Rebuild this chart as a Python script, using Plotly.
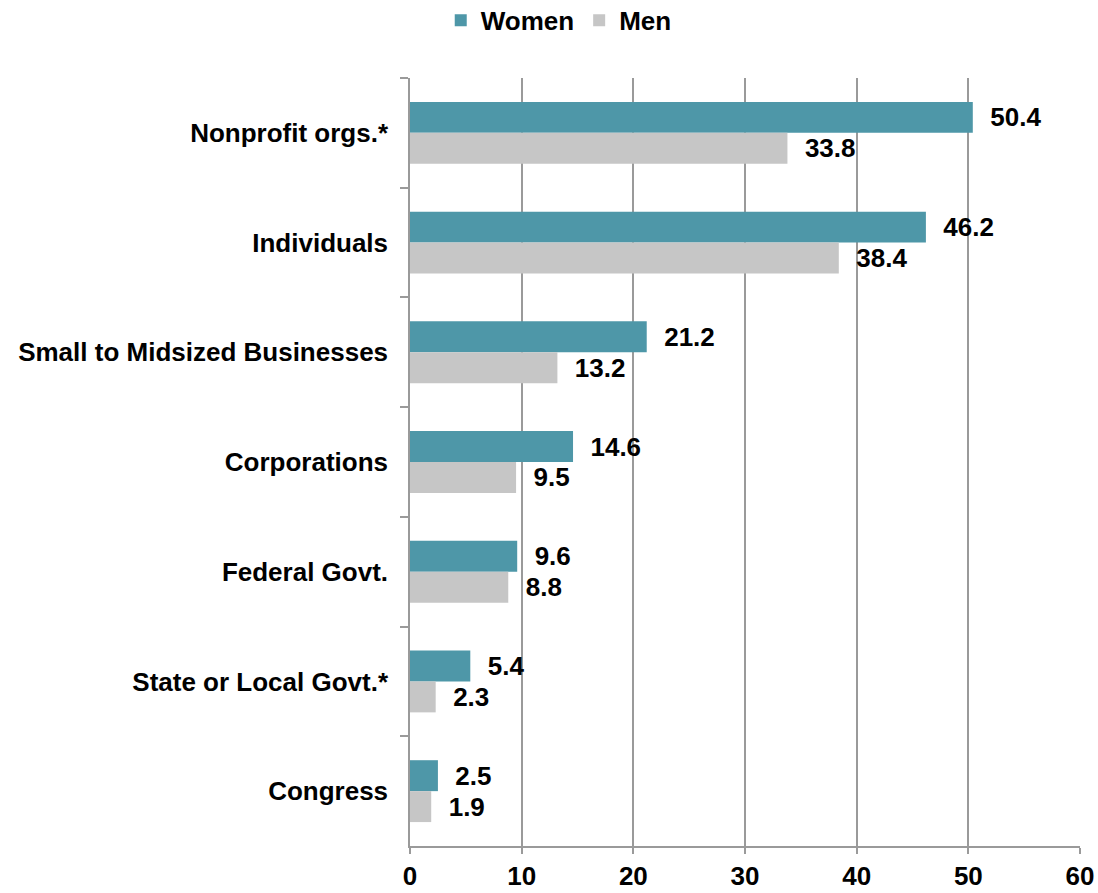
import plotly.graph_objects as go

categories = [
    "Nonprofit orgs.*",
    "Individuals",
    "Small to Midsized Businesses",
    "Corporations",
    "Federal Govt.",
    "State or Local Govt.*",
    "Congress",
]
women = [50.4, 46.2, 21.2, 14.6, 9.6, 5.4, 2.5]
men = [33.8, 38.4, 13.2, 9.5, 8.8, 2.3, 1.9]
x_ticks = [0, 10, 20, 30, 40, 50, 60]

FONT = "Liberation Sans, Arial, sans-serif"
GRID = "#9a9a9a"
SIZE = 26

fig = go.Figure()
fig.add_trace(go.Bar(
    y=categories, x=women, name="Women", orientation="h",
    marker=dict(color="#4E97A8", line=dict(width=0)),
    texttemplate="\u00a0\u00a0%{x:.1f}", textposition="outside",
    constraintext="none", cliponaxis=False,
    textfont=dict(size=SIZE, color="black", family=FONT, weight="bold"),
))
fig.add_trace(go.Bar(
    y=categories, x=men, name="Men", orientation="h",
    marker=dict(color="#C6C6C6", line=dict(width=0)),
    texttemplate="\u00a0\u00a0%{x:.1f}", textposition="outside",
    constraintext="none", cliponaxis=False,
    textfont=dict(size=SIZE, color="black", family=FONT, weight="bold"),
))

fig.update_layout(
    width=1098, height=893,
    barmode="group", bargap=0.436, bargroupgap=0,
    plot_bgcolor="white", paper_bgcolor="white",
    font=dict(family=FONT, size=SIZE, color="black", weight="bold"),
    margin=dict(l=410, r=18, t=78, b=47, autoexpand=False),
    legend=dict(
        orientation="h", x=0.222, xanchor="center", y=1.075, yanchor="middle",
        font=dict(size=SIZE, weight="bold"), traceorder="normal",
    ),
    showlegend=True,
)
fig.update_xaxes(
    range=[0, 60], tickvals=x_ticks, showgrid=True, gridcolor=GRID, gridwidth=1.5,
    zeroline=False, showline=True, linecolor=GRID, linewidth=1.5,
    ticks="outside", ticklen=6, tickcolor=GRID, tickwidth=1.5,
    tickfont=dict(size=SIZE, weight="bold"), automargin=False,
)
fig.update_yaxes(
    autorange="reversed", showline=True, linecolor=GRID, linewidth=1.5,
    ticks="outside", ticklen=8, tickcolor=GRID, tickwidth=1.5,
    tickson="boundaries", showgrid=False, ticklabelstandoff=15,
    tickfont=dict(size=SIZE, weight="bold"), automargin=False,
)

# drop the default 8px body margin so the figure fills the window exactly
fig.write_html(
    "out.html",
    config={"displayModeBar": False},
    post_script="document.body.style.margin='0';",
)
